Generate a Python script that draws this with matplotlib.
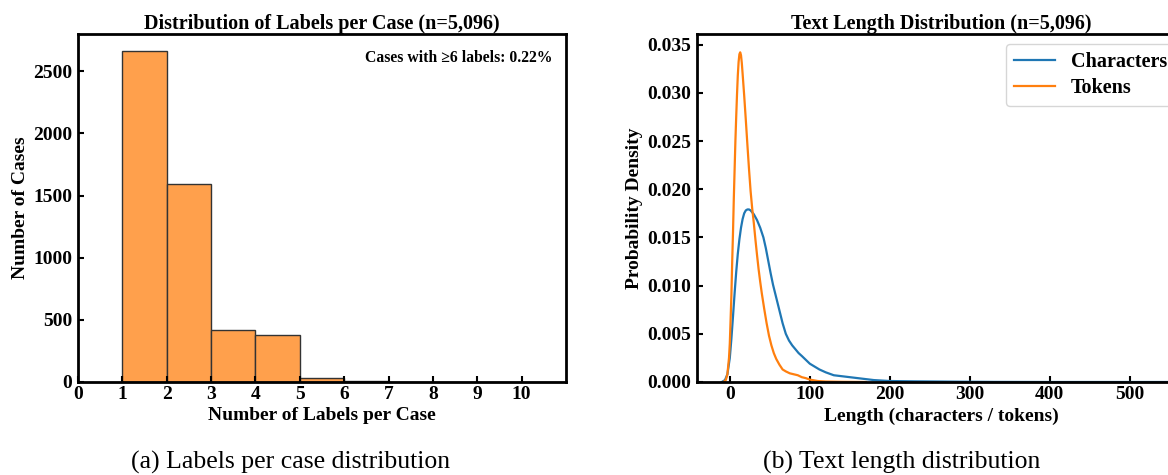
import matplotlib
matplotlib.use("Agg")
import matplotlib.pyplot as plt
import numpy as np

plt.rcParams["font.family"] = ["Liberation Serif", "DejaVu Serif"]
plt.rcParams["font.weight"] = "bold"

# left panel: cases per label count (bin left edges 1..10)
label_bins   = [1, 2, 3, 4, 5, 6, 7, 8, 9, 10]
label_counts = [2663, 1592, 421, 375, 34, 8, 2, 1, 0, 0]
n_cases      = 5096
pct_6plus    = 0.22

# right panel: KDE curves
char_x = [-10, -6, -3, 0, 2, 4, 6, 8, 10, 12, 14, 16, 18, 20, 22, 24, 26, 28,
          30, 32, 34, 36, 38, 40, 42, 45, 48, 51, 54, 57, 60, 63, 66, 70, 74,
          78, 82, 86, 90, 95, 100, 106, 112, 120, 130, 140, 150, 160, 170,
          180, 200, 230, 260, 290, 330, 400, 500, 560]
char_y = [0.0, 0.0002, 0.0008, 0.0025, 0.0045, 0.0068, 0.0092, 0.0114, 0.0133,
          0.0148, 0.0160, 0.0169, 0.0175, 0.0178, 0.0179, 0.0179, 0.0178,
          0.0176, 0.0174, 0.0171, 0.0168, 0.0164, 0.0160, 0.0155, 0.0150,
          0.0139, 0.0126, 0.0113, 0.0101, 0.0091, 0.0081, 0.0071, 0.0061,
          0.0050, 0.0043, 0.0038, 0.0034, 0.0030, 0.0027, 0.0023, 0.0019,
          0.0016, 0.0013, 0.0010, 0.0007, 0.0006, 0.0005, 0.0004, 0.0003,
          0.0002, 0.0001, 0.00007, 0.00005, 0.00003, 0.00001, 0.0, 0.0, 0.0]

tok_x = [-8, -5, -3, -1, 0, 1, 2, 3, 4, 5, 6, 7, 8, 9, 10, 11, 12, 13, 14, 15,
         16, 18, 20, 22, 24, 26, 28, 30, 32, 34, 36, 38, 40, 43, 46, 49, 52,
         55, 58, 62, 66, 70, 75, 80, 85, 90, 95, 100, 110, 120, 140, 170]
tok_y = [0.0, 0.0002, 0.0008, 0.0025, 0.0040, 0.0065, 0.0090, 0.0125, 0.0155,
         0.0190, 0.0220, 0.0250, 0.0275, 0.0298, 0.0318, 0.0332, 0.0340,
         0.0342, 0.0339, 0.0331, 0.0320, 0.0297, 0.0272, 0.0246, 0.0221,
         0.0198, 0.0180, 0.0165, 0.0148, 0.0132, 0.0117, 0.0104, 0.0092,
         0.0076, 0.0061, 0.0048, 0.0038, 0.0030, 0.0024, 0.0018, 0.0013,
         0.0011, 0.0009, 0.0008, 0.0007, 0.0005, 0.0004, 0.00025, 0.0001,
         0.00005, 0.00002, 0.0]

W, H = 1168, 475
fig = plt.figure(figsize=(W / 100, H / 100), dpi=100)
ax1 = fig.add_axes([78 / W, 1 - 382 / H, 488 / W, 348 / H])
ax2 = fig.add_axes([697 / W, 1 - 382 / H, 488 / W, 348 / H])

for ax in (ax1, ax2):
    for s in ax.spines.values():
        s.set_linewidth(2)
    ax.tick_params(direction="in", length=4, width=1.5, labelsize=14)
    ax.tick_params(axis="x", pad=3)
    ax.tick_params(axis="y", pad=4)

# (a) histogram
ax1.bar(label_bins, label_counts, width=1, align="edge", color="#ffa04c",
        edgecolor="#333333", linewidth=1)
ax1.set_xlim(0, 11)
ax1.set_ylim(0, 2800)
ax1.set_xticks(range(0, 11))
ax1.set_yticks([0, 500, 1000, 1500, 2000, 2500])
ax1.set_title(f"Distribution of Labels per Case (n={n_cases:,})", fontsize=14.5,
              fontweight="bold", pad=3)
ax1.set_xlabel("Number of Labels per Case", fontsize=14, fontweight="bold",
               labelpad=3)
ax1.set_ylabel("Number of Cases", fontsize=14, fontweight="bold", labelpad=3)
ax1.text(0.972, 0.955, f"Cases with \u22656 labels: {pct_6plus:.2f}%",
         transform=ax1.transAxes, ha="right", va="top", fontsize=11.3,
         fontweight="bold")

# (b) KDE
ax2.plot(char_x, char_y, color="#1f77b4", lw=1.6, label="Characters")
ax2.plot(tok_x, tok_y, color="#ff7f0e", lw=1.6, label="Tokens")
ax2.set_xlim(-41, 569)
ax2.set_ylim(0, 0.0361)
ax2.set_xticks([0, 100, 200, 300, 400, 500])
ax2.set_yticks(np.arange(0, 0.0351, 0.005))
ax2.yaxis.set_major_formatter(matplotlib.ticker.FormatStrFormatter("%.3f"))
ax2.set_title(f"Text Length Distribution (n={n_cases:,})", fontsize=14.5,
              fontweight="bold", pad=3)
ax2.set_xlabel("Length (characters / tokens)", fontsize=14, fontweight="bold",
               labelpad=3)
ax2.set_ylabel("Probability Density", fontsize=14, fontweight="bold", labelpad=3)
ax2.legend(loc="upper right", prop={"size": 14.5, "weight": "bold"},
           handlelength=2.0, handletextpad=0.8, borderpad=0.4, labelspacing=0.3)

fig.text(291 / W, 1 - 462 / H, "(a) Labels per case distribution",
         ha="center", va="center", fontsize=18.5, fontweight="normal")
fig.text(902 / W, 1 - 462 / H, "(b) Text length distribution",
         ha="center", va="center", fontsize=18.5, fontweight="normal")

fig.savefig("out.png", dpi=100)
